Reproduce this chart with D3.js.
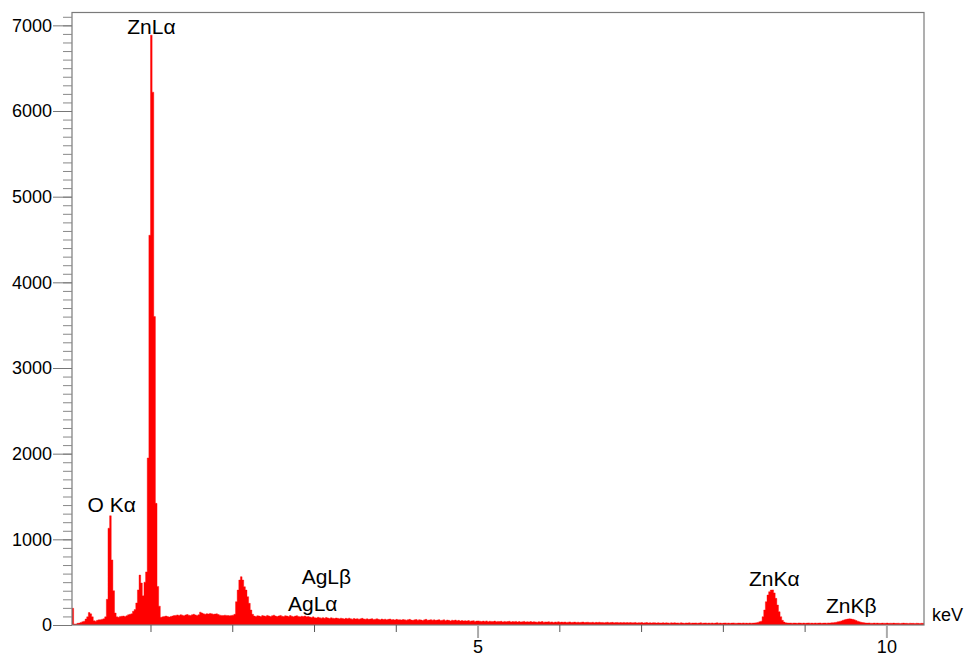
<!DOCTYPE html>
<html>
<head>
<meta charset="utf-8">
<script src="https://cdn.jsdelivr.net/npm/d3@7"></script>
<style>
  body { margin: 0; background: #fff; }
  svg text { font-family: "Liberation Sans", Arial, sans-serif; fill: #000; }
</style>
</head>
<body>
<svg id="chart" width="964" height="656"></svg>
<script>
// EDS spectrum: counts per 0.02 keV channel, first channel starts at 0.04 keV
var startKeV = 0.04,
	channelKeV = 0.02;

var counts = [
	195,12,12,20,22,30,38,45,70,95,145,130,95,50,45,55,60,62,68,72,
	95,300,1130,1275,760,400,140,95,90,100,102,105,100,108,120,125,130,160,180,257,
	410,583,490,340,500,620,1950,4550,6885,6220,3600,1420,450,220,90,95,100,105,98,92,
	100,105,110,112,118,110,120,115,108,118,122,115,110,120,125,118,112,120,150,140,
	130,125,132,128,135,130,125,128,130,122,115,112,110,115,112,110,108,112,115,125,
	272,408,525,564,525,447,408,330,253,175,125,105,100,108,104,98,110,106,102,112,
	105,100,108,115,104,99,106,112,103,98,108,104,100,110,102,97,104,108,100,95,
	102,98,105,96,100,92,88,95,85,82,90,84,80,86,78,88,82,76,84,80,
	75,82,78,72,80,76,70,78,74,80,72,68,76,70,74,66,72,78,70,68,
	72,66,70,74,64,68,72,66,62,70,64,68,60,66,70,62,64,58,66,60,
	62,58,64,60,56,62,66,58,54,60,64,56,62,58,52,60,66,55,58,62,
	56,60,54,58,62,52,56,60,50,58,54,48,56,52,58,50,54,46,52,48,
	50,46,52,44,48,50,42,46,48,44,40,46,42,48,38,44,42,40,46,38,
	42,40,44,36,42,38,40,44,36,40,38,42,34,40,36,38,42,34,38,36,
	40,34,38,36,32,38,35,40,33,36,34,38,32,36,30,35,33,37,31,34,
	32,35,30,33,36,29,32,34,30,33,28,32,35,29,31,33,28,30,32,27,
	31,29,33,28,30,26,30,32,27,29,31,26,28,30,25,29,27,30,26,28,
	26,29,25,27,30,24,27,25,28,23,26,28,24,26,23,27,25,22,26,24,
	23,26,22,25,24,21,25,23,26,22,24,21,25,23,20,24,22,25,21,23,
	22,24,20,23,25,21,22,24,20,23,21,24,20,22,25,21,23,20,22,24,
	21,23,20,22,24,21,20,23,22,20,24,21,22,20,23,21,22,24,25,30,
	38,45,97,175,272,350,389,408,410,375,311,233,155,97,55,35,26,24,22,23,
	21,23,22,20,24,22,21,23,20,22,24,21,22,20,23,21,22,24,20,22,
	23,21,24,22,25,27,30,32,38,42,48,55,60,66,70,72,70,66,60,52,
	45,38,32,28,25,23,22,24,21,20,23,21,22,20,19,22,21,20,23,19,
	21,20,22,19,20,21,18,20,22,19,20,18,21,19,20,18,21,19,18,20,
	19
];

// emission lines labelled on the plot
var lineNames = ["O K\u03b1", "ZnL\u03b1", "AgL\u03b1", "AgL\u03b2", "ZnK\u03b1", "ZnK\u03b2"];
var lineKeV = [0.525, 1.012, 2.984, 3.151, 8.63, 9.57];
var lineLabelY = [512, 34, 611, 584, 586, 613];   // baseline of each label (px)

var yMajor = [0, 1000, 2000, 3000, 4000, 5000, 6000, 7000];
var xMajor = [5, 10];
var xMinor = [1, 2, 3, 4, 6, 7, 8, 9];

(function(){
	var pLeft = 72, pRight = 924, pTop = 12.5, pBottom = 625;
	var endKeV = startKeV + counts.length * channelKeV;

	var svg = d3.select("#chart");

	var x = d3.scaleLinear().domain([startKeV, endKeV]).range([pLeft, pRight]);
	var y = d3.scaleLinear().domain([0, 7150]).range([pBottom, pTop]);

	// step outline of the channels
	var pts = counts.map(function(c, i){ return {e: startKeV + i*channelKeV, c: c}; });
	pts.push({e: endKeV, c: counts[counts.length-1]});

	svg.append("clipPath").attr("id", "plotclip")
		.append("rect")
		.attr("x", pLeft).attr("y", pTop)
		.attr("width", pRight-pLeft).attr("height", pBottom-pTop);

	var area = d3.area()
		.x(function(d){ return x(d.e); })
		.y0(y(0))
		.y1(function(d){ return y(d.c); })
		.curve(d3.curveStepAfter);

	svg.append("path")
		.datum(pts)
		.attr("clip-path", "url(#plotclip)")
		.attr("d", area)
		.attr("fill", "#ff0000")
		.attr("stroke", "#ff0000")
		.attr("stroke-width", 0.4);

	// frame
	svg.append("rect")
		.attr("x", pLeft).attr("y", pTop)
		.attr("width", pRight-pLeft).attr("height", pBottom-pTop)
		.attr("fill", "none")
		.attr("stroke", "#7a7a7a")
		.attr("stroke-width", 1.2);

	// y axis: minor ticks every 100, major every 1000
	var yMinorAxis = svg.append("g")
		.attr("transform", "translate(" + pLeft + ",0)")
		.call(d3.axisLeft(y).tickValues(d3.range(0, 7101, 100)).tickSize(9).tickFormat(""));
	yMinorAxis.select(".domain").remove();
	yMinorAxis.selectAll("line").attr("stroke", "#888");

	var yAxis = svg.append("g")
		.attr("transform", "translate(" + pLeft + ",0)")
		.call(d3.axisLeft(y).tickValues(yMajor).tickSize(19).tickPadding(1).tickFormat(d3.format("d")));
	yAxis.select(".domain").remove();
	yAxis.selectAll("line").attr("stroke", "#777");
	yAxis.selectAll("text").attr("font-size", "18px").style("font-family", "'Liberation Sans', Arial, sans-serif");

	// x axis
	var xMinorAxis = svg.append("g")
		.attr("transform", "translate(0," + pBottom + ")")
		.call(d3.axisBottom(x).tickValues(xMinor).tickSize(7).tickFormat(""));
	xMinorAxis.select(".domain").remove();
	xMinorAxis.selectAll("line").attr("stroke", "#555");

	var xAxis = svg.append("g")
		.attr("transform", "translate(0," + pBottom + ")")
		.call(d3.axisBottom(x).tickValues(xMajor).tickSize(13).tickPadding(2).tickFormat(d3.format("d")));
	xAxis.select(".domain").remove();
	xAxis.selectAll("line").attr("stroke", "#aaa").attr("stroke-width", 2);
	xAxis.selectAll("text").attr("font-size", "18px").style("font-family", "'Liberation Sans', Arial, sans-serif");

	svg.append("text")
		.attr("x", 932).attr("y", 621)
		.attr("font-size", "18px")
		.text("keV");

	// line labels
	svg.append("g").selectAll("text")
		.data(lineNames)
		.enter().append("text")
		.attr("x", function(d, i){ return x(lineKeV[i]); })
		.attr("y", function(d, i){ return lineLabelY[i]; })
		.attr("text-anchor", "middle")
		.attr("font-size", "21px")
		.text(function(d){ return d; });
})();
</script>
</body>
</html>
